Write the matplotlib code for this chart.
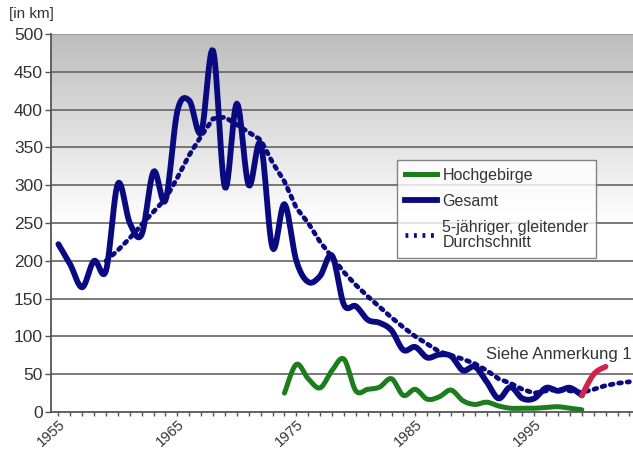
import numpy as np
import matplotlib
matplotlib.use("Agg")
import matplotlib.pyplot as plt
from matplotlib.colors import LinearSegmentedColormap
from matplotlib.lines import Line2D

plt.rcParams['font.family'] = ['Liberation Sans', 'DejaVu Sans']

# Gesamt (total), 1955-1999
gesamt_years = list(range(1955, 2000))
gesamt = [222, 195, 165, 200, 187, 302, 250, 235, 318, 280,
          398, 412, 370, 478, 297, 408, 300, 355, 217, 275,
          200, 172, 180, 207, 142, 140, 122, 118, 108, 82,
          86, 72, 76, 74, 55, 60, 40, 18, 33, 18,
          18, 32, 28, 32, 22]

# red continuation (see note 1)
note_years = [1999, 2000, 2001]
note_vals = [22, 50, 60]

# Hochgebirge (high mountains), 1974-1999
hoch_years = list(range(1974, 2000))
hoch = [25, 63, 44, 32, 55, 70, 28, 30, 33, 44,
        22, 30, 17, 20, 29, 15, 10, 13, 8, 5,
        5, 5, 6, 7, 5, 3]

# 5-year moving average, 1959-2003
ma_years = list(range(1959, 2004))
ma = [200, 214, 230, 248, 265, 282, 310, 340, 365, 388,
      390, 380, 370, 360, 330, 305, 270, 250, 225, 205,
      185, 168, 153, 139, 125, 112, 100, 90, 80, 75,
      70, 64, 55, 44, 38, 30, 25, 28, 30, 28,
      26, 30, 35, 38, 40]

y_ticks = [0, 50, 100, 150, 200, 250, 300, 350, 400, 450, 500]
x_labels = [1955, 1965, 1975, 1985, 1995]

navy = '#0a0a80'
green = '#1d7d1d'
red = '#d0244a'
txt = '#333333'


def smooth(xs, ys, n=12):
    # Catmull-Rom curve through the points (like Excel's smoothed lines)
    xs = np.asarray(xs, float)
    ys = np.asarray(ys, float)
    px = np.concatenate([[xs[0]], xs, [xs[-1]]])
    py = np.concatenate([[ys[0]], ys, [ys[-1]]])
    ox, oy = [], []
    t = np.linspace(0, 1, n, endpoint=False)
    for i in range(1, len(px) - 2):
        for arr, out in ((px, ox), (py, oy)):
            p0, p1, p2, p3 = arr[i - 1], arr[i], arr[i + 1], arr[i + 2]
            out.extend(0.5 * ((2 * p1) + (-p0 + p2) * t
                              + (2 * p0 - 5 * p1 + 4 * p2 - p3) * t ** 2
                              + (-p0 + 3 * p1 - 3 * p2 + p3) * t ** 3))
    ox.append(xs[-1])
    oy.append(ys[-1])
    return ox, oy


fig = plt.figure(figsize=(6.33, 4.5), dpi=100)
ax = fig.add_axes([0.081, 0.0844, 0.919, 0.84])

x0, x1 = 1954.4, 2003.3
ax.set_xlim(x0, x1)
ax.set_ylim(0, 500)

# gray-to-white background gradient
cmap = LinearSegmentedColormap.from_list('bg', ['#ffffff', '#ffffff', '#bdbdbd'])
grad = np.linspace(0, 1, 256).reshape(-1, 1)
ax.imshow(grad, extent=[x0, x1, 0, 500], origin='lower', aspect='auto',
          cmap=cmap, zorder=0)

for v in y_ticks[1:-1]:
    ax.axhline(v, color='#6e6e6e', lw=1.3, zorder=1)
ax.axhline(500, color='#9a9a9a', lw=1.5, zorder=1)

ax.plot(ma_years, ma, color=navy, lw=3.4, ls=(0, (0.6, 1.2)),
        dash_capstyle='round', zorder=2)
gx, gy = smooth(gesamt_years, gesamt)
ax.plot(gx, gy, color=navy, lw=4.2, solid_capstyle='round', zorder=3)
hx, hy = smooth(hoch_years, hoch)
ax.plot(hx, hy, color=green, lw=3.6, solid_capstyle='round', zorder=3)
rx, ry = smooth(note_years, note_vals)
ax.plot(rx, ry, color=red, lw=4.0, solid_capstyle='round', zorder=4)

ax.text(2003.2, 66, 'Siehe Anmerkung 1', fontsize=12, color=txt,
        ha='right', va='bottom', zorder=5, clip_on=False)

for s in ['top', 'right']:
    ax.spines[s].set_visible(False)
ax.spines['left'].set_color('#555555')
ax.spines['left'].set_linewidth(1.3)
ax.spines['bottom'].set_color('#555555')
ax.spines['bottom'].set_linewidth(1.3)

ax.set_yticks(y_ticks)
ax.set_yticklabels([str(v) for v in y_ticks], fontsize=12.5, color=txt)
ax.set_xticks(np.arange(1955, 2004, 1), minor=True)
ax.set_xticks(x_labels)
ax.set_xticklabels([str(v) for v in x_labels], rotation=42, ha='right',
                   rotation_mode='anchor', fontsize=10.5, color=txt)
ax.tick_params(axis='x', which='both', length=3, color='#555555', width=1, pad=1)
ax.tick_params(axis='y', length=4, color='#555555', width=1, pad=2)

fig.text(0.015, 0.968, '[in km]', fontsize=11, color=txt, ha='left', va='center')

handles = [Line2D([], [], color=green, lw=3.6),
           Line2D([], [], color=navy, lw=4.2),
           Line2D([], [], color=navy, lw=3.4, ls=(0, (0.6, 1.2)))]
labels = ['Hochgebirge', 'Gesamt', '5-jähriger, gleitender\nDurchschnitt']
leg = ax.legend(handles, labels, loc='upper left', bbox_to_anchor=(0.594, 0.667),
                fontsize=11.5, frameon=True, fancybox=False, handlelength=2.0,
                handletextpad=0.35, borderpad=0.5, labelspacing=0.7,
                borderaxespad=0)
leg.get_frame().set_edgecolor('#666666')
leg.get_frame().set_linewidth(1.0)
for t in leg.get_texts():
    t.set_color(txt)
    t.set_linespacing(0.95)

fig.savefig('out.png', dpi=100)
